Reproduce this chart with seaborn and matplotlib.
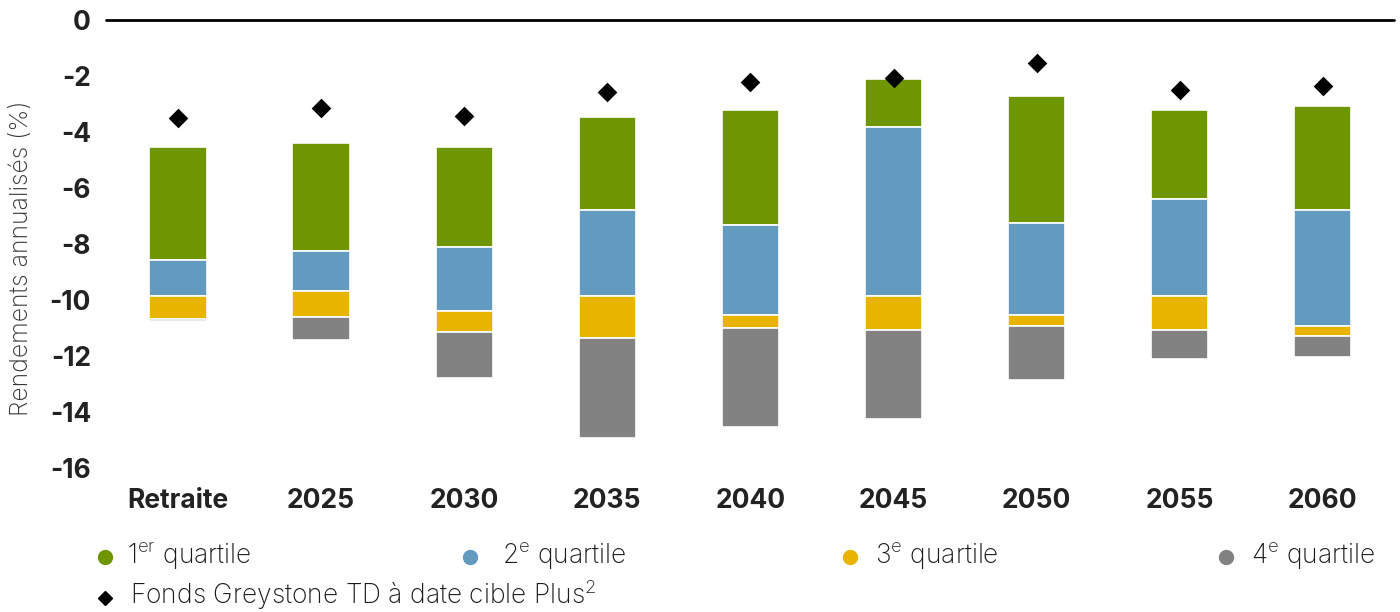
import matplotlib
matplotlib.use("Agg")
import matplotlib.pyplot as plt
from matplotlib.lines import Line2D
import seaborn as sns

# Annualised returns (%) by target date: quartile boundaries and fund result
categories = ["Retraite", "2025", "2030", "2035", "2040", "2045", "2050", "2055", "2060"]
q1_top = [-4.55, -4.40, -4.54, -3.47, -3.24, -2.11, -2.72, -3.24, -3.09]
q1_q2 = [-8.57, -8.26, -8.11, -6.80, -7.34, -3.84, -7.26, -6.42, -6.80]
q2_q3 = [-9.87, -9.70, -10.40, -9.86, -10.54, -9.86, -10.55, -9.86, -10.93]
q3_q4 = [-10.70, -10.61, -11.16, -11.39, -11.02, -11.09, -10.93, -11.09, -11.31]
q4_bottom = [-10.77, -11.45, -12.81, -14.96, -14.56, -14.26, -12.89, -12.14, -12.05]
fund = [-3.53, -3.15, -3.45, -2.58, -2.22, -2.08, -1.54, -2.53, -2.36]

y_ticks = [0, -2, -4, -6, -8, -10, -12, -14, -16]

quartile_labels = [r"1$^{\mathregular{er}}$ quartile", r"2$^{\mathregular{e}}$ quartile",
                   r"3$^{\mathregular{e}}$ quartile", r"4$^{\mathregular{e}}$ quartile"]
fund_label = r"Fonds Greystone TD à date cible Plus$^{\mathregular{2}}$"
y_label = "Rendements annualisés (%)"

colors = ["#6e9600", "#629ac0", "#e8b400", "#828282"]

sns.set_style("white")
plt.rcParams["font.family"] = ["Inter", "DejaVu Sans"]
plt.rcParams["axes.unicode_minus"] = False
plt.rcParams["mathtext.fontset"] = "custom"

fig = plt.figure(figsize=(14, 6.12), dpi=100)
ax = fig.add_axes([0.076, 0.236, 0.92, 0.732])

# Floating stacked segments: each quartile spans between two boundaries
bounds = [q1_top, q1_q2, q2_q3, q3_q4, q4_bottom]
for i, col in enumerate(colors):
    upper = bounds[i]
    lower = bounds[i + 1]
    heights = [u - l for u, l in zip(upper, lower)]
    sns.barplot(x=categories, y=heights, bottom=lower, color=col, width=0.4,
                errorbar=None, edgecolor="white", linewidth=1.2, saturation=1,
                ax=ax, zorder=2)

sns.stripplot(x=categories, y=fund, jitter=False, marker="D", color="black",
              size=10, linewidth=0, ax=ax, zorder=5)

ax.axhline(0, color="black", lw=2, zorder=3, clip_on=False)
ax.set_ylim(-16, 0)
ax.set_xlim(-0.5, len(categories) - 0.5)
ax.set_yticks(y_ticks)
ax.set_yticklabels([str(t) for t in y_ticks])
ax.tick_params(axis="both", length=0, labelsize=19, colors="#222222")
ax.tick_params(axis="y", pad=11)
ax.tick_params(axis="x", pad=15)
for lab in ax.get_xticklabels() + ax.get_yticklabels():
    lab.set_fontweight("bold")
ax.set_xlabel("")
ax.set_ylabel("")
for s in ax.spines.values():
    s.set_visible(False)

fig.text(22 / 1400, 1 - 258 / 612, y_label, rotation=90, ha="center", va="center",
         fontsize=17.8, color="#333333", fontweight="light")

# Legend laid out in figure pixels
W, H = 1400, 612
dot_x = [105, 470, 850, 1226]
txt_x = [127, 502, 875, 1251]
dot_y, base1 = 556.5, 563
dia_y, base2 = 598, 604
for dx, tx, col, lab in zip(dot_x, txt_x, colors, quartile_labels):
    fig.add_artist(Line2D([dx / W], [1 - dot_y / H], marker="o", color=col,
                          markersize=10, linestyle="none", transform=fig.transFigure))
    fig.text(tx / W, 1 - base1 / H, lab, ha="left", va="baseline", fontsize=19,
             color="#1a1a1a", fontweight="light")
fig.add_artist(Line2D([105 / W], [1 - dia_y / H], marker="D", color="black",
                      markersize=7.5, linestyle="none", transform=fig.transFigure))
fig.text(130 / W, 1 - base2 / H, fund_label, ha="left", va="baseline", fontsize=19,
         color="#1a1a1a", fontweight="light")

fig.savefig("out.png", dpi=100, facecolor="white")
